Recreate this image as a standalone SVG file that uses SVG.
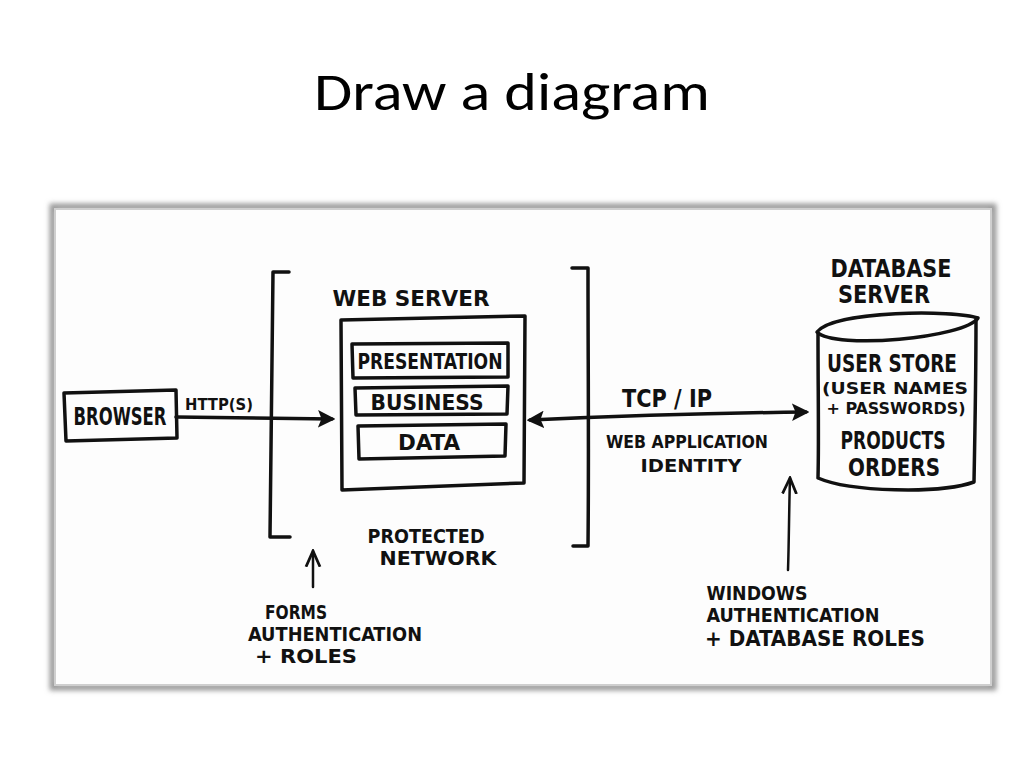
<svg xmlns="http://www.w3.org/2000/svg" width="1024" height="768" viewBox="0 0 1024 768">
<defs>
<style>
.t{font-family:"Liberation Sans Narrow","DejaVu Sans Condensed","Liberation Sans",sans-serif;font-weight:bold;fill:#111;text-anchor:middle}
.ln{fill:none;stroke:#111;stroke-width:3.5;stroke-linecap:round;stroke-linejoin:round}
.thin{fill:none;stroke:#111;stroke-width:2.5;stroke-linecap:round}
</style>
<marker id="ah" viewBox="0 0 10 10" refX="8" refY="5" markerWidth="5" markerHeight="5" orient="auto-start-reverse" markerUnits="strokeWidth">
<path d="M0,0 L10,5 L0,10 L2,5 z" fill="#111"/>
</marker>
<marker id="ahs" viewBox="0 0 10 10" refX="9" refY="5" markerWidth="7" markerHeight="7" orient="auto" markerUnits="strokeWidth">
<path d="M0,1 L9,5 L0,9" fill="none" stroke="#111" stroke-width="1.6"/>
</marker>
<filter id="sh" x="-5%" y="-5%" width="110%" height="110%">
<feGaussianBlur stdDeviation="2.5"/>
</filter>
</defs>
<rect width="1024" height="768" fill="#fff"/>
<text x="512" y="110" font-family="Carlito,'Open Sans','Liberation Sans',sans-serif" font-size="54" textLength="396" lengthAdjust="spacingAndGlyphs" fill="#000" text-anchor="middle">Draw a diagram</text>
<g id="frame">
<rect x="53" y="207" width="940" height="480" fill="none" stroke="#9a9a9a" stroke-width="7" filter="url(#sh)"/>
<rect x="55" y="209" width="936" height="476" fill="#fdfdfd" stroke="#cfcfcf" stroke-width="2"/>
</g>
<g id="connectors">
<path class="ln" d="M176,417 L332,419" marker-end="url(#ah)"/>
<path class="ln" d="M530,420 C620,416 720,413 806,412" marker-start="url(#ah)" marker-end="url(#ah)"/>
<path class="thin" d="M788,570 C789,540 789,510 790,478" marker-end="url(#ahs)"/>
<path class="thin" d="M313,587 L313,551" marker-end="url(#ahs)"/>
</g>
<g id="browser">
<path class="ln" d="M64,393 L176,390 L177,438 L66,441 Z"/>
<text class="t" x="120" y="425" font-size="24" textLength="93" lengthAdjust="spacingAndGlyphs">BROWSER</text>
</g>
<text class="t" x="219" y="410" font-size="16" textLength="68" lengthAdjust="spacingAndGlyphs">HTTP(S)</text>
<g id="protected-network">
<path class="ln" d="M289,272 L273,272 C272,360 271,450 270,537 L290,537"/>
<path class="ln" d="M572,268 L588,268 C588,360 589,450 588,546 L573,546"/>
<text class="t" x="426" y="543" font-size="19" textLength="117" lengthAdjust="spacingAndGlyphs">PROTECTED</text>
<text class="t" x="438" y="565" font-size="19" textLength="117" lengthAdjust="spacingAndGlyphs">NETWORK</text>
</g>
<g id="web-server">
<text class="t" x="411" y="306" font-size="22" textLength="157" lengthAdjust="spacingAndGlyphs">WEB SERVER</text>
<path class="ln" d="M341,320 L525,316 L524,483 L342,490 Z"/>
<g id="presentation">
<path class="ln" d="M352,344 L508,343 L508,377 L353,378 Z"/>
<text class="t" x="430" y="369" font-size="21" textLength="145" lengthAdjust="spacingAndGlyphs">PRESENTATION</text>
</g>
<g id="business">
<path class="ln" d="M355,388 L508,386 L507,414 L356,415 Z"/>
<text class="t" x="427" y="410" font-size="21" textLength="113" lengthAdjust="spacingAndGlyphs">BUSINESS</text>
</g>
<g id="data">
<path class="ln" d="M358,426 L506,424 L505,456 L359,459 Z"/>
<text class="t" x="429" y="450" font-size="21" textLength="62" lengthAdjust="spacingAndGlyphs">DATA</text>
</g>
</g>
<text class="t" x="667" y="407" font-size="24" textLength="90" lengthAdjust="spacingAndGlyphs">TCP / IP</text>
<text class="t" x="687" y="448" font-size="18" textLength="162" lengthAdjust="spacingAndGlyphs">WEB APPLICATION</text>
<text class="t" x="691" y="472" font-size="18" textLength="101" lengthAdjust="spacingAndGlyphs">IDENTITY</text>
<g id="database-server">
<text class="t" x="891" y="277" font-size="24" textLength="121" lengthAdjust="spacingAndGlyphs">DATABASE</text>
<text class="t" x="884" y="303" font-size="24" textLength="92" lengthAdjust="spacingAndGlyphs">SERVER</text>
<path class="ln" d="M817,332 C835,310 955,310 978,318 C965,338 835,350 817,332 Z"/>
<path class="ln" d="M818,334 C818,390 819,440 818,478 C850,492 940,494 974,482 C975,430 976,370 976,320"/>
<text class="t" x="892" y="372" font-size="24" textLength="130" lengthAdjust="spacingAndGlyphs">USER STORE</text>
<text class="t" x="895" y="394" font-size="15" textLength="146" lengthAdjust="spacingAndGlyphs">(USER NAMES</text>
<text class="t" x="896" y="414" font-size="15" textLength="139" lengthAdjust="spacingAndGlyphs">+ PASSWORDS)</text>
<text class="t" x="893" y="449" font-size="24" textLength="105" lengthAdjust="spacingAndGlyphs">PRODUCTS</text>
<text class="t" x="894" y="476" font-size="24" textLength="92" lengthAdjust="spacingAndGlyphs">ORDERS</text>
</g>
<g id="forms-auth">
<text class="t" x="296" y="619" font-size="19" textLength="62" lengthAdjust="spacingAndGlyphs">FORMS</text>
<text class="t" x="335" y="641" font-size="19" textLength="174" lengthAdjust="spacingAndGlyphs">AUTHENTICATION</text>
<text class="t" x="306" y="663" font-size="19" textLength="102" lengthAdjust="spacingAndGlyphs">+ ROLES</text>
</g>
<g id="windows-auth">
<text class="t" x="757" y="600" font-size="19" textLength="101" lengthAdjust="spacingAndGlyphs">WINDOWS</text>
<text class="t" x="793" y="622" font-size="19" textLength="173" lengthAdjust="spacingAndGlyphs">AUTHENTICATION</text>
<text class="t" x="815" y="646" font-size="22" textLength="220" lengthAdjust="spacingAndGlyphs">+ DATABASE ROLES</text>
</g>
</svg>
